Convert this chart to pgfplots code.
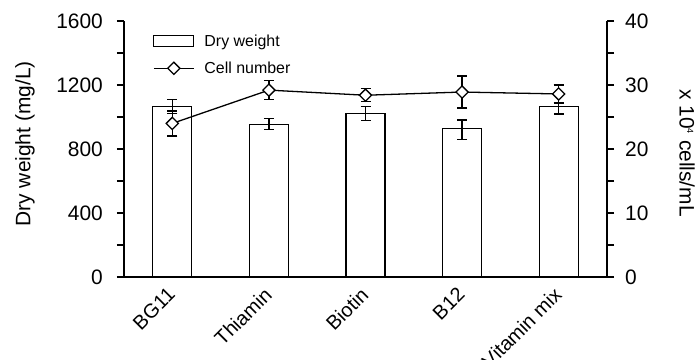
\documentclass[border=0pt]{standalone}
\usepackage{pgfplots}
\pgfplotsset{compat=1.18}
\usepackage{fontspec}
\setmainfont{Liberation Sans}
\pgfplotsset{
  lineleg/.style={legend image code/.code={\draw[##1, mark repeat=2, mark phase=2] plot coordinates {(0bp,0bp) (20bp,0bp) (40bp,0bp)};}},
  barleg/.style={legend image code/.code={\draw[draw=black, fill=white, line width=1.3pt] (0bp,-5.5bp) rectangle (40bp,5.5bp);}},
}
\begin{document}
\begin{tikzpicture}
\useasboundingbox (-124bp,-83bp) rectangle (572bp,277bp);
\pgfplotsset{
  common/.style={
    scale only axis, width=483bp, height=256bp,
    xmin=-0.5, xmax=4.5,
    /pgf/number format/assume math mode=true,
    /pgf/number format/1000 sep={},
    tick align=outside,
    major tick length=7bp, minor tick length=7bp,
    tick style={line width=1.5pt, black},
    minor tick style={line width=1.5pt, black},
    axis line style={line width=1.5pt},
    yticklabel style={font=\fontsize{21}{24}\selectfont},
  }
}
\begin{axis}[common,
  axis y line*=left, axis x line*=bottom,
  ymin=0, ymax=1600, ytick={0,400,...,1600}, minor y tick num=1,
  xtick={0,1,2,3,4},
  xticklabels={BG11,Thiamin,Biotin,B12,Vitamin mix},
  xtick style={draw=none},
  xticklabel style={font=\fontsize{20}{24}\selectfont, xshift=-6bp, yshift=-2bp, rotate=45, anchor=north east, inner sep=0pt},
  yticklabel style={inner sep=0pt, xshift=-14bp},
  every axis y label/.style={at={(axis description cs:-0.205,0.52)}, rotate=90, anchor=center, font=\fontsize{21}{24}\selectfont},
  ylabel={Dry weight (mg/L)},
]
\addplot[ybar, bar width=39bp, draw=black, fill=white, line width=1.3pt,
  error bars/.cd, y dir=both, y explicit,
  error bar style={line width=1.3pt, black},
  error mark options={rotate=90, mark size=5bp, line width=1.3pt}]
  table[x=x, y=y, y error plus=ep, y error minus=em] {
x y ep em
0 1065 45 45
1 955 35 33
2 1020 44 42
3 930 52 72
4 1065 24 46
};
\end{axis}
\begin{axis}[common,
  axis y line*=right, axis x line=none,
  ymin=0, ymax=40, ytick={0,10,...,40}, minor y tick num=1,
  yticklabel style={inner sep=0pt, xshift=11bp},
  every axis y label/.style={at={(axis description cs:1.166,0.484)}, rotate=-90, anchor=center, font=\fontsize{21}{24}\selectfont},
  ylabel={x 10\textsuperscript{\fontsize{9}{10}\selectfont 4} cells/mL},
  legend style={at={(axis description cs:0.06,0.955)}, anchor=north west, draw=none, fill=none,
    font=\fontsize{16}{18}\selectfont, inner sep=0pt, row sep=10bp,
    cells={anchor=west}},
  legend cell align=left,
]
\addlegendimage{barleg}
\addlegendentry{\hspace{8bp}Dry weight}
\addplot[black, line width=1.3pt, mark=square*, mark size=4.3bp,
  mark options={rotate=45, fill=white, line width=1.3pt},
  lineleg,
  error bars/.cd, y dir=both, y explicit,
  error bar style={line width=1.3pt, black},
  error mark options={rotate=90, mark size=5bp, line width=1.3pt}]
  table[x=x, y=y, y error=e] {
x y e
0 24.0 1.95
1 29.2 1.5
2 28.4 1.0
3 28.9 2.5
4 28.6 1.4
};
\addlegendentry{\hspace{8bp}Cell number}
\end{axis}
\end{tikzpicture}
\end{document}
